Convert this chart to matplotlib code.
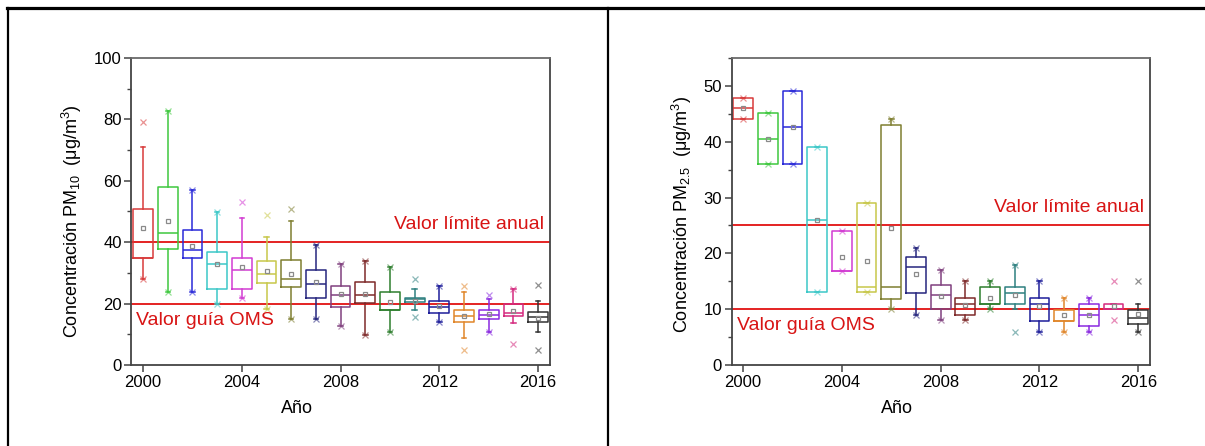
#!/usr/bin/env python3
"""Box plots of annual PM10 / PM2.5 concentrations, 2000-2016."""

import matplotlib
matplotlib.use("Agg")
import matplotlib.pyplot as plt
from matplotlib.lines import Line2D
from matplotlib.ticker import MultipleLocator

plt.rcParams["font.family"] = ["Liberation Sans", "DejaVu Sans"]
plt.rcParams["mathtext.fontset"] = "custom"
plt.rcParams["mathtext.rm"] = "Liberation Sans"
plt.rcParams["mathtext.it"] = "Liberation Sans:italic"

# ---------- data ----------
years = list(range(2000, 2017))
box_colors = ["#d83a3a", "#3ec83e", "#2a2ad8", "#3cc8c8", "#d23cd2", "#c8c84a",
              "#7e7e30", "#26267e", "#80407e", "#7e2a2a", "#2e7e2e", "#2e8080",
              "#1e1e9a", "#e0862a", "#8a2ae0", "#d42a7e", "#333333"]

# PM10
pm10_q1 = [34.7, 37.8, 34.7, 24.8, 24.8, 26.7, 25.3, 21.7, 18.8, 20.1, 17.8, 20.4, 16.8, 13.9, 14.9, 15.8, 13.9]
pm10_med = [34.7, 42.9, 37.3, 32.8, 30.8, 29.8, 27.9, 26.3, 22.8, 22.8, 17.8, 21.4, 19.0, 15.8, 16.3, 16.8, 15.7]
pm10_q3 = [50.9, 58.0, 43.9, 36.9, 34.7, 33.9, 34.3, 30.8, 25.8, 26.9, 23.9, 21.8, 20.8, 17.8, 17.9, 20.0, 17.3]
pm10_wlo = [28.0, 23.9, 23.9, 19.9, 21.9, 18.1, 14.9, 15.0, 12.8, 9.8, 10.8, 17.9, 13.9, 8.9, 10.8, 13.8, 10.7]
pm10_whi = [70.9, 82.8, 56.9, 49.8, 47.8, 41.8, 46.9, 39.0, 32.9, 33.9, 31.9, 24.9, 25.8, 23.9, 21.6, 24.9, 20.8]
pm10_mean = [44.6, 46.9, 38.9, 32.9, 31.9, 30.6, 29.7, 26.9, 23.2, 23.0, 20.6, 21.0, 19.2, 15.8, 16.6, 17.7, 15.3]
pm10_min = [28.0, 23.9, 23.9, 19.9, 21.9, 18.1, 14.9, 15.0, 12.8, 9.8, 10.8, 15.7, 13.9, 4.9, 10.8, 6.7, 4.9]
pm10_max = [79.0, 82.8, 56.9, 49.8, 53.0, 48.9, 50.9, 39.0, 32.9, 33.9, 31.9, 27.9, 25.8, 25.8, 22.9, 24.9, 26.0]

# PM2.5
pm25_q1 = [44.0, 36.0, 36.0, 13.0, 16.9, 13.0, 11.9, 12.9, 10.0, 8.9, 10.9, 10.9, 7.9, 7.9, 7.0, 10.0, 7.4]
pm25_med = [46.0, 40.5, 42.6, 25.9, 16.9, 13.9, 13.9, 17.5, 12.5, 10.9, 10.9, 12.9, 10.9, 7.9, 8.9, 10.0, 8.5]
pm25_q3 = [47.9, 45.1, 49.0, 39.0, 24.0, 29.0, 43.0, 19.4, 14.4, 12.0, 14.0, 14.0, 12.0, 9.9, 10.9, 10.9, 9.9]
pm25_wlo = [44.0, 36.0, 36.0, 13.0, 16.9, 13.0, 10.0, 9.0, 8.0, 8.0, 10.0, 10.0, 5.9, 5.9, 5.9, 10.0, 5.9]
pm25_whi = [47.9, 45.1, 49.0, 39.0, 24.0, 29.0, 44.0, 20.9, 17.0, 15.0, 15.0, 17.9, 15.0, 12.0, 12.0, 10.9, 10.9]
pm25_mean = [46.0, 40.5, 42.6, 26.0, 19.3, 18.7, 24.6, 16.3, 12.4, 10.8, 12.0, 12.5, 10.5, 9.0, 8.9, 10.6, 9.2]
pm25_min = [44.0, 36.0, 36.0, 13.0, 16.9, 13.0, 10.0, 9.0, 8.0, 8.0, 10.0, 5.9, 5.9, 5.9, 5.9, 8.0, 5.9]
pm25_max = [47.9, 45.1, 49.0, 39.0, 24.0, 29.0, 44.0, 20.9, 17.0, 15.0, 15.0, 17.9, 15.0, 12.0, 12.0, 15.0, 15.0]

RED_LINE = "#e42222"
RED_TEXT = "#d81414"
SPINE = "#444444"


# ---------- helpers ----------
def draw_panel(ax, q1, med, q3, wlo, whi, mean, mn, mx, ylim, major, minor,
               limit, guide, ylabel):
    stats = []
    for i in range(len(years)):
        stats.append(dict(q1=q1[i], med=med[i], q3=q3[i], whislo=wlo[i],
                          whishi=whi[i], mean=mean[i], fliers=[]))
    art = ax.bxp(stats, positions=years, widths=0.8, capwidths=0.18,
                 showmeans=True, showfliers=False, manage_ticks=False,
                 meanprops=dict(marker="s", markersize=3.5, markerfacecolor="none",
                                markeredgecolor="#8a8a8a", markeredgewidth=0.9),
                 boxprops=dict(linewidth=1.1), medianprops=dict(linewidth=1.1),
                 whiskerprops=dict(linewidth=1.1), capprops=dict(linewidth=1.1))
    for i, c in enumerate(box_colors):
        art["boxes"][i].set_color(c)
        art["medians"][i].set_color(c)
        for part in ("whiskers", "caps"):
            art[part][2 * i].set_color(c)
            art[part][2 * i + 1].set_color(c)
        ax.plot([years[i], years[i]], [mn[i], mx[i]], linestyle="none", marker="x",
                markersize=4, markeredgewidth=0.9, color=c, alpha=0.55, zorder=3)

    ax.axhline(limit, color=RED_LINE, lw=1.4, zorder=1)
    ax.axhline(guide, color=RED_LINE, lw=1.4, zorder=1)
    ax.text(0.985, limit + (ylim[1] * 0.03), "Valor límite anual", transform=ax.get_yaxis_transform(),
            ha="right", va="bottom", color=RED_TEXT, fontsize=14)
    ax.text(0.012, guide - (ylim[1] * 0.027), "Valor guía OMS", transform=ax.get_yaxis_transform(),
            ha="left", va="top", color=RED_TEXT, fontsize=14)

    ax.set_xlim(1999.53, 2016.48)
    ax.set_ylim(*ylim)
    ax.set_xticks([2000, 2004, 2008, 2012, 2016])
    ax.yaxis.set_major_locator(MultipleLocator(major))
    ax.yaxis.set_minor_locator(MultipleLocator(minor))
    ax.tick_params(axis="both", which="major", direction="out", length=5, width=1.1,
                   color=SPINE, labelsize=12, pad=2)
    ax.tick_params(axis="y", which="minor", direction="out", length=3, width=1.0, color=SPINE)
    for s in ax.spines.values():
        s.set_color(SPINE)
        s.set_linewidth(1.3)
    ax.spines["top"].set_color("#6a6a6a")

    ax.set_xlabel("Año", fontsize=13, labelpad=1)
    ax.xaxis.set_label_coords(0.395, -0.115)
    ax.set_ylabel(ylabel, fontsize=13)
    ax.yaxis.set_label_coords(-0.114, 0.47)


# ---------- main ----------
fig = plt.figure(figsize=(12.05, 4.46), dpi=100)

ax1 = fig.add_axes([0.1091, 0.1816, 0.3473, 0.6884])
draw_panel(ax1, pm10_q1, pm10_med, pm10_q3, pm10_wlo, pm10_whi, pm10_mean,
           pm10_min, pm10_max, (0, 100), 20, 10, 40, 20,
           r"Concentración PM$\mathregular{_{10}}$  (μg/m$\mathregular{^3}$)")

ax2 = fig.add_axes([0.6071, 0.1816, 0.3473, 0.6884])
draw_panel(ax2, pm25_q1, pm25_med, pm25_q3, pm25_wlo, pm25_whi, pm25_mean,
           pm25_min, pm25_max, (0, 55), 10, 5, 25, 10,
           r"Concentración PM$\mathregular{_{2.5}}$  (μg/m$\mathregular{^3}$)")
ax2.yaxis.set_label_coords(-0.09, 0.49)

# table-like frame around the two panels
fig.add_artist(Line2D([0.0055, 1.0], [0.9815, 0.9815], color="black", lw=2.3))
fig.add_artist(Line2D([0.0068, 0.0068], [0.0, 0.9815], color="black", lw=1.6))
fig.add_artist(Line2D([0.5048, 0.5048], [0.0, 0.9815], color="black", lw=1.6))

fig.savefig("out.png", dpi=100)
